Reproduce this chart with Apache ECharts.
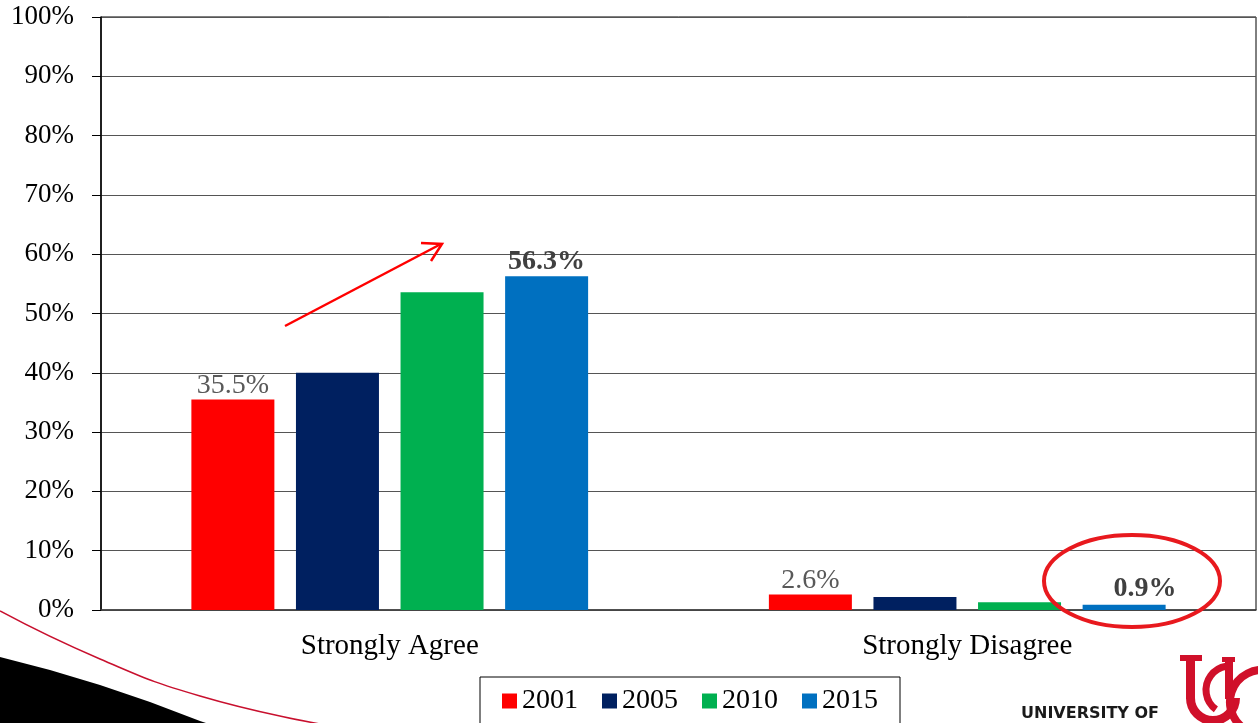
<!DOCTYPE html>
<html>
<head>
<meta charset="utf-8">
<script src="https://cdn.jsdelivr.net/npm/echarts@6/dist/echarts.min.js"></script>
<style>
  html, body { margin: 0; padding: 0; background: #fff; }
  #chart { width: 1258px; height: 723px; }
</style>
</head>
<body>
<div id="chart"></div>
<script>
const categories = ["Strongly Agree", "Strongly Disagree"];
const years = ["2001", "2005", "2010", "2015"];
const colors = ["#FF0000", "#002060", "#00B050", "#0070C0"];

const values2001 = [35.5, 2.6];
const values2005 = [40.0, 2.2];
const values2010 = [53.6, 1.3];
const values2015 = [56.3, 0.9];
const yTicks = [0, 10, 20, 30, 40, 50, 60, 70, 80, 90, 100];

const serif = "'Liberation Serif', 'Times New Roman', serif";
const ucRed = "#D0102A";

const chart = echarts.init(document.getElementById("chart"));

// labels only on the first and last year, like the slide
const plainLabel = {
  show: true, position: "top", distance: 0,
  formatter: "{c}%", fontFamily: serif, fontSize: 28, color: "#595959"
};
const boldLabel = {
  show: true, position: "top", distance: 0,
  formatter: (p) => p.value.toFixed(1) + "%",
  fontFamily: serif, fontSize: 28, fontWeight: "bold", color: "#404040"
};

function barSeries(name, vals, color, labelFor) {
  return {
    name: name,
    type: "bar",
    barWidth: 83,
    barGap: "26%",
    itemStyle: { color: color },
    data: vals.map((v, i) => {
      const item = { value: v };
      const lab = labelFor ? labelFor(i) : null;
      if (lab) item.label = lab;
      return item;
    })
  };
}

const series = [
  barSeries(years[0], values2001, colors[0], () => plainLabel),
  barSeries(years[1], values2005, colors[1]),
  barSeries(years[2], values2010, colors[2]),
  barSeries(years[3], values2015, colors[3], (i) =>
    i === 0 ? boldLabel : Object.assign({}, boldLabel, { offset: [21, 0], distance: 2 }))
];

const option = {
  animation: false,
  backgroundColor: "#fff",
  grid: {
    left: 101, right: 2, top: 17, bottom: 113,
    show: true, borderColor: "#000", borderWidth: 1
  },
  xAxis: {
    type: "category",
    data: categories,
    axisLine: { lineStyle: { color: "#404040", width: 1.5 } },
    axisTick: { show: false },
    axisLabel: { fontFamily: serif, fontSize: 29, color: "#000", margin: 22 }
  },
  yAxis: {
    type: "value",
    min: yTicks[0],
    max: yTicks[yTicks.length - 1],
    interval: 10,
    axisLine: { show: true, lineStyle: { color: "#000", width: 1.5 } },
    axisTick: { show: true, length: 9, lineStyle: { color: "#000" } },
    axisLabel: { formatter: "{value}%", fontFamily: serif, fontSize: 27, color: "#000", margin: 27 },
    splitLine: { lineStyle: { color: "#555", width: 1.2 } }
  },
  legend: {
    data: years,
    left: 480,
    top: 677,
    orient: "horizontal",
    itemWidth: 15,
    itemHeight: 15,
    itemGap: 24,
    icon: "rect",
    padding: [10, 22, 16, 22],
    borderColor: "#000",
    borderWidth: 1,
    textStyle: { fontFamily: serif, fontSize: 28, color: "#000" }
  },
  series: series,
  graphic: [
    // slide swoosh, bottom left
    {
      type: "polygon", z: 0,
      shape: { points: [[0, 657], [50, 670], [100, 685], [150, 702], [200, 721], [206, 723], [0, 723]] },
      style: { fill: "#000" }
    },
    {
      type: "polyline", z: 0,
      shape: { points: [[0, 611], [100, 659], [200, 696], [320, 724]], smooth: 0.5 },
      style: { stroke: "#c8102e", lineWidth: 1.5, fill: null }
    },
    // red trend arrow
    {
      type: "line", z: 10,
      shape: { x1: 285, y1: 326, x2: 441, y2: 244 },
      style: { stroke: "#FF0000", lineWidth: 2.5 }
    },
    {
      type: "polyline", z: 10,
      shape: { points: [[421, 243], [442, 244], [431, 261]] },
      style: { stroke: "#FF0000", lineWidth: 2.5, fill: null }
    },
    // highlight ellipse
    {
      type: "ellipse", z: 10,
      shape: { cx: 1132, cy: 581, rx: 88, ry: 46 },
      style: { stroke: "#E8191E", lineWidth: 4, fill: null }
    },
    // university logo
    {
      type: "text", z: 10,
      left: 1021, top: 706,
      style: { text: "UNIVERSITY OF", font: "bold 16px 'DejaVu Sans', sans-serif", fill: "#1a1a1a" }
    },
    { type: "rect", z: 10, shape: { x: 1180, y: 655, width: 22, height: 6 }, style: { fill: ucRed } },
    { type: "rect", z: 10, shape: { x: 1186, y: 655, width: 9, height: 44 }, style: { fill: ucRed } },
    {
      type: "arc", z: 10,
      shape: { cx: 1213, cy: 698, r: 22.5, startAngle: 0, endAngle: Math.PI, clockwise: true },
      style: { stroke: ucRed, lineWidth: 9, fill: null }
    },
    {
      type: "arc", z: 10,
      shape: { cx: 1230, cy: 690, r: 24, startAngle: Math.PI * 0.7, endAngle: Math.PI * 1.45, clockwise: true },
      style: { stroke: ucRed, lineWidth: 7, fill: null }
    },
    { type: "rect", z: 10, shape: { x: 1222, y: 657, width: 13, height: 5 }, style: { fill: ucRed } },
    { type: "rect", z: 10, shape: { x: 1225, y: 657, width: 8, height: 42 }, style: { fill: ucRed } },
    {
      type: "arc", z: 10,
      shape: { cx: 1262, cy: 702, r: 32, startAngle: Math.PI * 0.6, endAngle: Math.PI * 1.65, clockwise: true },
      style: { stroke: ucRed, lineWidth: 8, fill: null }
    }
  ]
};

chart.setOption(option);
</script>
</body>
</html>
